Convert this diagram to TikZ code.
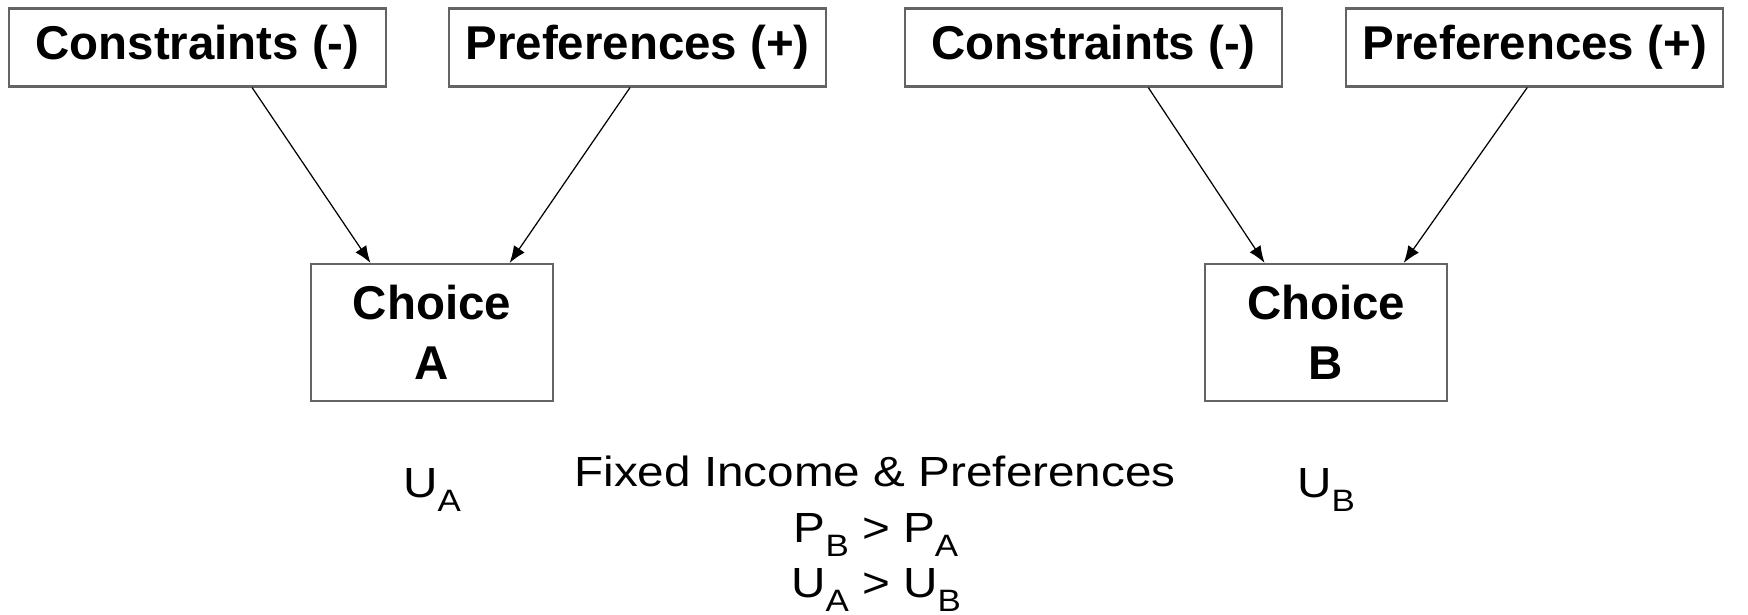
\documentclass[tikz,border=0pt]{standalone}
\usepackage{fontspec}
\setmainfont{Liberation Sans}
\newfontfamily\widefont[FakeStretch=1.13]{Liberation Sans}
\usetikzlibrary{arrows.meta, positioning, calc}
\definecolor{boxgray}{RGB}{100,100,100}
\newcommand\lowidx[1]{\raisebox{-4pt}{\fontsize{8.8}{9}\selectfont #1}}

\begin{document}
\begin{tikzpicture}[
        node distance=0.6cm,
        factor/.style={rectangle, draw=boxgray, line width=0.6pt, minimum width=3.77cm, minimum height=0.78cm, inner sep=0pt, font=\fontsize{13.5}{16}\selectfont\bfseries},
        choice/.style={rectangle, draw=boxgray, line width=0.6pt, minimum width=2.42cm, minimum height=1.37cm, inner sep=0pt, align=center, font=\fontsize{13.5}{17}\selectfont\bfseries},
        note/.style={inner sep=0pt, anchor=base, font=\widefont\fontsize{12}{14}\selectfont},
        line/.style={draw, line width=0.35pt, -{Latex[length=1.7mm, width=1.3mm]}}
    ]
    \useasboundingbox (0,0) rectangle (17.48,-6.15);

    % top row
    \node[factor] (ca) at (1.975,-0.475) {Constraints (-)};
    \node[factor, right=0.61cm of ca] (pa) {Preferences (+)};
    \node[factor, right=0.77cm of pa] (cb) {Constraints (-)};
    \node[factor, right=0.62cm of cb] (pb) {Preferences (+)};

    % choices
    \node[choice] (choiceA) at (4.32,-3.325) {Choice\\A};
    \node[choice, right=6.5cm of choiceA] (choiceB) {Choice\\B};

    % utilities and conditions
    \node[note] (ua) at (choiceA |- 0,-4.97) {U\lowidx{A}};
    \node[note] (ub) at (choiceB |- 0,-4.97) {U\lowidx{B}};
    \node[note] (fixed) at (8.75,-4.86) {Fixed Income \& Preferences};
    \node[note] (prices) at (8.76,-5.42) {P\lowidx{B} > P\lowidx{A}};
    \node[note] (utils) at (8.76,-5.97) {U\lowidx{A} > U\lowidx{B}};

    % arrows
    \path [line] ($(ca.south west)!0.644!(ca.south east)$) -- ($(choiceA.north west)!0.248!(choiceA.north east)$);
    \path [line] ($(pa.south west)!0.48!(pa.south east)$) -- ($(choiceA.north west)!0.818!(choiceA.north east)$);
    \path [line] ($(cb.south west)!0.644!(cb.south east)$) -- ($(choiceB.north west)!0.248!(choiceB.north east)$);
    \path [line] ($(pb.south west)!0.48!(pb.south east)$) -- ($(choiceB.north west)!0.818!(choiceB.north east)$);

\end{tikzpicture}
\end{document}
